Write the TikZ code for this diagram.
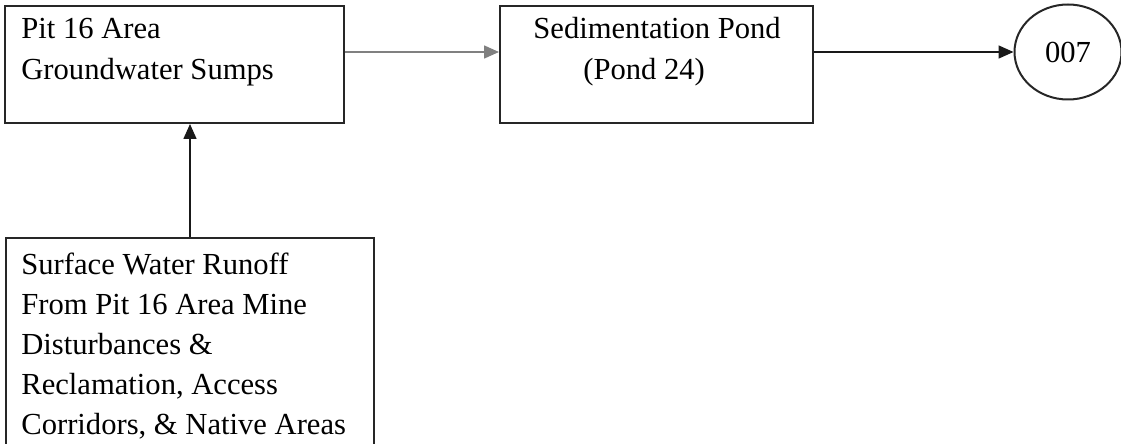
\documentclass[tikz,border=0pt]{standalone}
\usepackage{fontspec}
\setmainfont{Liberation Serif}
\usetikzlibrary{arrows.meta}
\usetikzlibrary{shapes.geometric}
\newcommand{\boxfont}{\fontsize{15.3}{20.4}\selectfont}
\newcommand{\runofffont}{\fontsize{15.3}{20}\selectfont}
\tikzset{
    common/.style={draw=black!85, line width=1pt},
    box/.style={common, rectangle, anchor=north west},
    outfall/.style={common, ellipse, minimum width=53.5pt, minimum height=47.5pt, inner sep=0pt, font=\boxfont},
    boxtext/.style={anchor=north west, align=left, inner sep=0pt, font=\boxfont},
    flow/.style={-{Triangle[length=7.5pt,width=6.5pt]}, line width=0.8pt, black!90},
    faintflow/.style={flow, black!50}
}
\begin{document}
\begin{tikzpicture}[x=0.5pt,y=-0.5pt]
    \clip (0,0) rectangle (1121,444);

    % boxes
    \node[box, minimum width=169.5pt, minimum height=58.5pt] (pit) at (4,5) {};
    \node[box, minimum width=156.5pt, minimum height=58.5pt] (pond) at (499,5) {};
    \node[box, minimum width=184pt, minimum height=120pt] (runoff) at (5,237) {};
    \node[outfall] (out007) at (1068,52) {007};

    % texts
    \node[boxtext] (pit-text) at (21,18) {Pit 16 Area\\Groundwater Sumps};
    \node[boxtext] (pond-text) at (533,17) {Sedimentation Pond\\\hspace*{25pt}(Pond 24)};
    \node[boxtext, font=\runofffont] (runoff-text) at (21,253) {Surface Water Runoff\\From Pit 16 Area Mine\\Disturbances \&\\Reclamation, Access\\Corridors, \& Native Areas};

    % flows
    \draw[faintflow] (pit.east |- out007.west) -- (pond.west |- out007.west);
    \draw[flow] (pond.east |- out007.west) -- (out007.west);
    \draw[flow] (runoff.north) -- (runoff.north |- pit.south);
\end{tikzpicture}
\end{document}
